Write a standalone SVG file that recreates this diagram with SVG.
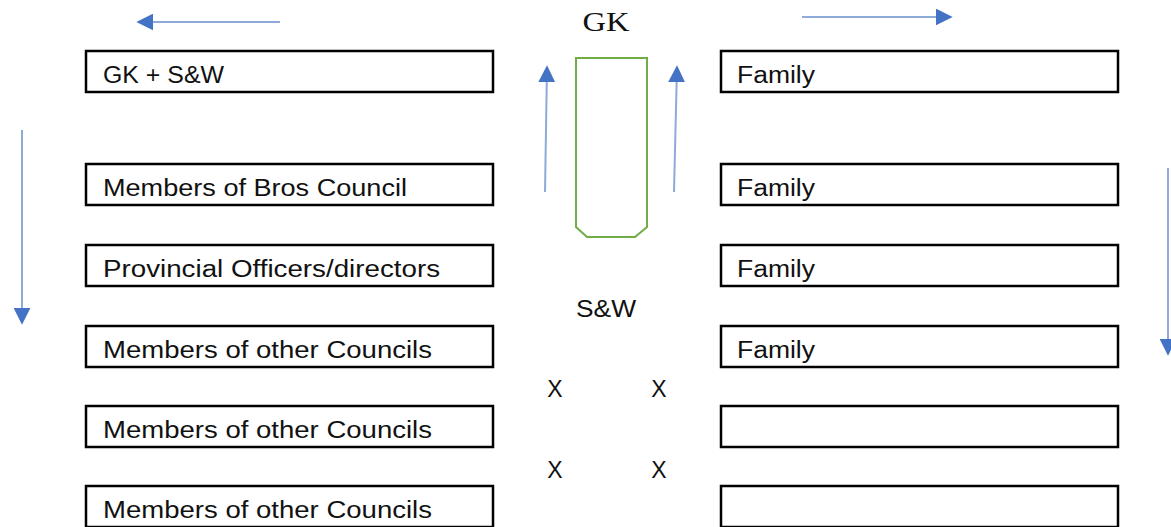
<svg xmlns="http://www.w3.org/2000/svg" width="1171" height="527" viewBox="0 0 1171 527">
<style>
.box{fill:#fff;stroke:#000;stroke-width:2.5}
.t{font-family:"Liberation Sans",Arial,sans-serif;font-size:23px;fill:#111}
.ar{stroke:#8eaadb;stroke-width:2;fill:none}
</style>
<defs>
<marker id="ahb" viewBox="0 0 10 10" refX="9" refY="5" markerWidth="17" markerHeight="17" markerUnits="userSpaceOnUse" orient="auto">
<path d="M0,0 L10,5 L0,10 z" fill="#4472c4"/>
</marker>
</defs>
<rect width="1171" height="527" fill="#fff"/>
<g id="connectors">
<line class="ar" x1="280" y1="22" x2="138" y2="22" marker-end="url(#ahb)"/>
<line class="ar" x1="802" y1="17" x2="951" y2="17" marker-end="url(#ahb)"/>
<line class="ar" x1="22" y1="130" x2="22" y2="323" marker-end="url(#ahb)"/>
<line class="ar" x1="1168" y1="168" x2="1168" y2="354" marker-end="url(#ahb)"/>
<line class="ar" x1="545" y1="192" x2="547" y2="67" marker-end="url(#ahb)"/>
<line class="ar" x1="674" y1="192" x2="677" y2="67" marker-end="url(#ahb)"/>
</g>
<g id="gk-label"><text x="606" y="31" text-anchor="middle" font-family="'Liberation Serif','Times New Roman',serif" font-size="28" fill="#111" textLength="47" lengthAdjust="spacingAndGlyphs">GK</text></g>
<g id="gk-shape"><path d="M576,58 L647,58 L647,227 L635,237 L587,237 L576,227 Z" fill="#fff" stroke="#70ad47" stroke-width="2"/></g>
<g id="sw-label"><text class="t" x="576" y="317" textLength="60" lengthAdjust="spacingAndGlyphs">S&amp;W</text></g>
<g id="x-marks">
<text class="t" x="555" y="397" text-anchor="middle">X</text>
<text class="t" x="659" y="397" text-anchor="middle">X</text>
<text class="t" x="555" y="478" text-anchor="middle">X</text>
<text class="t" x="659" y="478" text-anchor="middle">X</text>
</g>
<g id="left1"><rect class="box" x="86" y="51" width="407" height="41"/><text class="t" x="103" y="83" textLength="121" lengthAdjust="spacingAndGlyphs">GK + S&amp;W</text></g>
<g id="left2"><rect class="box" x="86" y="164" width="407" height="41"/><text class="t" x="103" y="196" textLength="304" lengthAdjust="spacingAndGlyphs">Members of Bros Council</text></g>
<g id="left3"><rect class="box" x="86" y="245" width="407" height="41"/><text class="t" x="103" y="277" textLength="337" lengthAdjust="spacingAndGlyphs">Provincial Officers/directors</text></g>
<g id="left4"><rect class="box" x="86" y="326" width="407" height="41"/><text class="t" x="103" y="358" textLength="329" lengthAdjust="spacingAndGlyphs">Members of other Councils</text></g>
<g id="left5"><rect class="box" x="86" y="406" width="407" height="41"/><text class="t" x="103" y="438" textLength="329" lengthAdjust="spacingAndGlyphs">Members of other Councils</text></g>
<g id="left6"><rect class="box" x="86" y="486" width="407" height="41"/><text class="t" x="103" y="518" textLength="329" lengthAdjust="spacingAndGlyphs">Members of other Councils</text></g>
<g id="right1"><rect class="box" x="721" y="51" width="397" height="41"/><text class="t" x="737" y="83" textLength="78" lengthAdjust="spacingAndGlyphs">Family</text></g>
<g id="right2"><rect class="box" x="721" y="164" width="397" height="41"/><text class="t" x="737" y="196" textLength="78" lengthAdjust="spacingAndGlyphs">Family</text></g>
<g id="right3"><rect class="box" x="721" y="245" width="397" height="41"/><text class="t" x="737" y="277" textLength="78" lengthAdjust="spacingAndGlyphs">Family</text></g>
<g id="right4"><rect class="box" x="721" y="326" width="397" height="41"/><text class="t" x="737" y="358" textLength="78" lengthAdjust="spacingAndGlyphs">Family</text></g>
<g id="right5"><rect class="box" x="721" y="406" width="397" height="41"/></g>
<g id="right6"><rect class="box" x="721" y="486" width="397" height="41"/></g>
</svg>
